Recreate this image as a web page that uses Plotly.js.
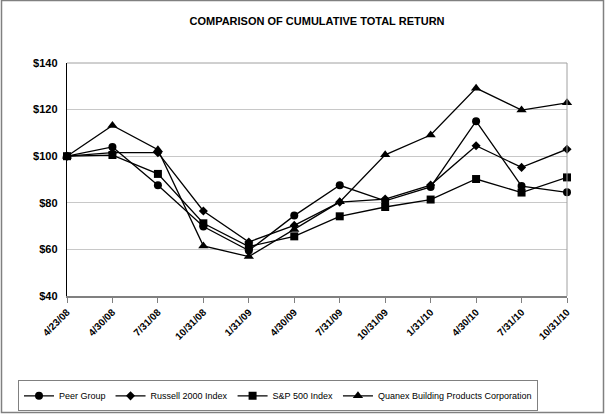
<!DOCTYPE html>
<html>
<head>
<meta charset="utf-8">
<script src="https://cdn.plot.ly/plotly-3.0.1.min.js"></script>
<style>html,body{margin:0;padding:0;background:#fff;}#chart{width:605px;height:414px;}</style>
</head>
<body>
<div id="chart"></div>
<script>
const dates = ["4/23/08","4/30/08","7/31/08","10/31/08","1/31/09","4/30/09","7/31/09","10/31/09","1/31/10","4/30/10","7/31/10","10/31/10"];
const peerGroup = [100, 104, 87.5, 69.8, 59.5, 74.5, 87.5, 80.8, 86.8, 115, 87.2, 84.5];
const russell2000 = [100, 101.5, 101.5, 76.5, 63.2, 70.3, 80.3, 81.6, 87.6, 104.5, 95.2, 103];
const sp500 = [100, 100.5, 92.4, 71.2, 61.2, 65.6, 74.2, 78.2, 81.4, 90.2, 84.4, 90.9];
const quanex = [100, 113.2, 102.8, 61.5, 56.9, 68.5, 80.4, 100.6, 109.1, 129.2, 119.8, 122.9];
const seriesNames = ["Peer Group","Russell 2000 Index","S&P 500 Index","Quanex Building Products Corporation"];
const yTicks = [40, 60, 80, 100, 120, 140];

const symbols = ["circle","diamond","square","triangle-up"];
const sizes = [8, 7, 8, 9];
const allSeries = [peerGroup, russell2000, sp500, quanex];

const traces = allSeries.map((vals, i) => ({
  type: 'scatter',
  mode: 'lines+markers',
  x: dates,
  y: vals,
  name: seriesNames[i],
  cliponaxis: false,
  line: {color: '#000000', width: 1.3},
  marker: {symbol: symbols[i], size: sizes[i], color: '#000000'}
}));

const layout = {
  width: 605,
  height: 414,
  margin: {l: 67, r: 38, t: 63, b: 118, autoexpand: false},
  paper_bgcolor: '#ffffff',
  plot_bgcolor: '#ffffff',
  showlegend: true,
  title: {
    text: 'COMPARISON OF CUMULATIVE TOTAL RETURN',
    font: {family: 'Liberation Sans, Arial, sans-serif', size: 11, color: '#000', weight: 'bold'},
    x: 0.5, xanchor: 'center', xref: 'paper',
    y: 0.948, yanchor: 'middle'
  },
  xaxis: {
    type: 'category',
    range: [0, 11],
    automargin: false,
    showgrid: false,
    showline: true,
    linecolor: '#808080',
    linewidth: 1.5,
    ticks: 'outside',
    ticklen: 5,
    tickcolor: '#808080',
    tickangle: -45,
    tickfont: {family: 'Liberation Sans, Arial, sans-serif', size: 10, color: '#000', weight: 'bold'},
    zeroline: false,
    fixedrange: true
  },
  yaxis: {
    range: [40, 140],
    automargin: false,
    tickvals: yTicks,
    ticktext: yTicks.map(v => '$' + v),
    showgrid: true,
    gridcolor: '#c8c8c8',
    gridwidth: 1,
    showline: true,
    linecolor: '#000000',
    linewidth: 1.2,
    ticks: '',
    ticklabelstandoff: 6,
    tickfont: {family: 'Liberation Sans, Arial, sans-serif', size: 11, color: '#000', weight: 'bold'},
    zeroline: false,
    fixedrange: true
  },
  legend: {
    orientation: 'h',
    x: -0.098,
    xanchor: 'left',
    y: -0.362,
    yanchor: 'top',
    bordercolor: '#808080',
    borderwidth: 1,
    bgcolor: '#ffffff',
    font: {family: 'Liberation Sans, Arial, sans-serif', size: 9, color: '#000'},
    itemwidth: 30,
    tracegroupgap: 0
  },
  shapes: [
    {type: 'line', xref: 'paper', yref: 'paper', x0: 0, x1: 1, y0: 1, y1: 1, line: {color: '#a0a0a0', width: 1}},
    {type: 'line', xref: 'paper', yref: 'paper', x0: 1, x1: 1, y0: 0, y1: 1, line: {color: '#a0a0a0', width: 1}},
    {type: 'rect', xref: 'paper', yref: 'paper', x0: -0.131, x1: 1.073, y0: -0.5, y1: 1.268, line: {color: '#808080', width: 1.5}, layer: 'below'}
  ]
};

Plotly.newPlot('chart', traces, layout, {displayModeBar: false, staticPlot: true});
</script>
</body>
</html>
